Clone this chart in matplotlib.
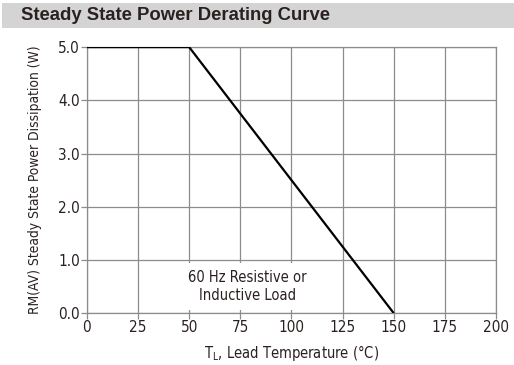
import matplotlib.pyplot as plt
from matplotlib.patches import Rectangle

temp = [0, 50, 150]
power = [5.0, 5.0, 0.0]
xticks = [0, 25, 50, 75, 100, 125, 150, 175, 200]
yticks = [0.0, 1.0, 2.0, 3.0, 4.0, 5.0]

plt.rcParams['font.family'] = ['DejaVu Sans']
plt.rcParams['font.stretch'] = 'condensed'

fig = plt.figure(figsize=(5.14, 3.65), dpi=100)
fig.patches.append(Rectangle((0.004, 0.923), 0.996, 0.069, transform=fig.transFigure,
                             facecolor='#d4d4d4', edgecolor='none'))
fig.text(0.04, 0.957, 'Steady State Power Derating Curve', fontsize=13.3, fontweight='bold',
         family=['Liberation Sans', 'DejaVu Sans'], fontstretch='normal', color='#2a2020', va='center')

ax = fig.add_axes([0.169, 0.142, 0.796, 0.729])
ax.plot(temp, power, color='black', lw=1.6, zorder=4, solid_capstyle='butt')
ax.set_xlim(0, 200)
ax.set_ylim(0, 5)
ax.set_xticks(xticks)
ax.set_yticks(yticks)
ax.set_yticklabels(['%.1f' % v for v in yticks])
ax.grid(True, color='#8c8c8c', lw=0.9)
for s in ax.spines.values():
    s.set_color('#8c8c8c')
    s.set_linewidth(0.9)
ax.tick_params(length=4, width=0.9, color='#8c8c8c', labelsize=11, labelcolor='#2a2020', pad=1)

ax.text(78.5, 0.5, '60 Hz Resistive or\nInductive Load', ha='center', va='center',
        fontsize=10.5, color='#2a2020', linespacing=1.3, zorder=3,
        bbox=dict(facecolor='white', edgecolor='none', pad=5))

ax.set_xlabel('T$_\\mathregular{L}$, Lead Temperature (°C)', fontsize=10.5, color='#2a2020', labelpad=6)
ax.set_ylabel('RM(AV) Steady State Power Dissipation (W)', fontsize=9.9, color='#2a2020', labelpad=12)

fig.savefig('out.png', dpi=100)
